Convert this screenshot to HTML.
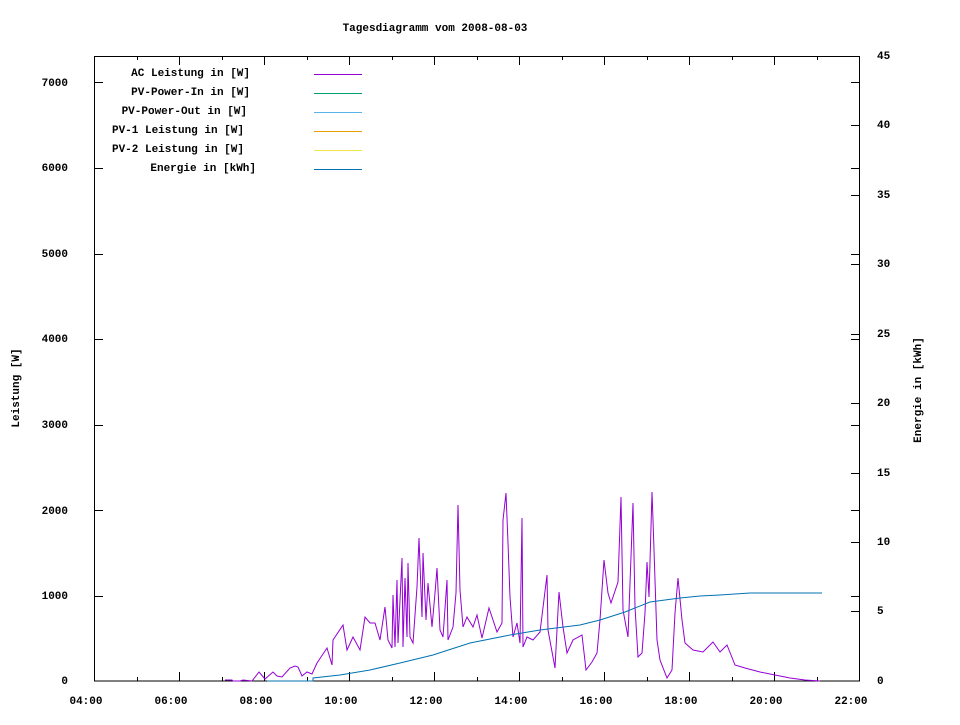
<!DOCTYPE html>
<html><head><meta charset="utf-8"><style>
html,body{margin:0;padding:0;background:#fff;}
text{font-family:"Liberation Mono",monospace;font-weight:bold;font-size:11px;fill:#000;}
</style></head><body>
<svg width="960" height="720" xmlns="http://www.w3.org/2000/svg">
<rect width="960" height="720" fill="#fff"/>
<text x="435" y="31" text-anchor="middle">Tagesdiagramm vom 2008-08-03</text>
<!-- frame -->
<rect x="94.5" y="56.5" width="765" height="624.5" fill="none" stroke="#000" stroke-width="1"/>
<g stroke="#000" stroke-width="1">
<!-- left ticks -->
<path d="M94 596.5h9M94 510.5h9M94 425.5h9M94 339.5h9M94 254.5h9M94 168.5h9M94 82.5h9"/>
<path d="M860 596.5h-9M860 510.5h-9M860 425.5h-9M860 339.5h-9M860 254.5h-9M860 168.5h-9M860 82.5h-9"/>
<!-- right ticks (energy) every 5 units -->
<path d="M860 611.5h-9M860 542.5h-9M860 473.5h-9M860 403.5h-9M860 334.5h-9M860 264.5h-9M860 195.5h-9M860 125.5h-9"/>
<!-- x ticks -->
<path d="M179.5 681v-9M264.5 681v-9M349.5 681v-9M434.5 681v-9M519.5 681v-9M604.5 681v-9M689.5 681v-9M774.5 681v-9"/>
<path d="M137.5 681v-4M222.5 681v-4M307.5 681v-4M392.5 681v-4M477.5 681v-4M562.5 681v-4M647.5 681v-4M732.5 681v-4M817.5 681v-4"/>
<path d="M179.5 56v9M264.5 56v9M349.5 56v9M434.5 56v9M519.5 56v9M604.5 56v9M689.5 56v9M774.5 56v9"/>
<path d="M137.5 56v4M222.5 56v4M307.5 56v4M392.5 56v4M477.5 56v4M562.5 56v4M647.5 56v4M732.5 56v4M817.5 56v4"/>
</g>
<g text-anchor="end">
<text x="68" y="684">0</text><text x="68" y="599">1000</text><text x="68" y="514">2000</text><text x="68" y="428">3000</text><text x="68" y="342">4000</text><text x="68" y="257">5000</text><text x="68" y="171">6000</text><text x="68" y="86">7000</text>
</g>
<g text-anchor="start">
<text x="877" y="684">0</text><text x="877" y="614">5</text><text x="877" y="545">10</text><text x="877" y="476">15</text><text x="877" y="406">20</text><text x="877" y="337">25</text><text x="877" y="267">30</text><text x="877" y="198">35</text><text x="877" y="128">40</text><text x="877" y="59">45</text>
</g>
<g text-anchor="middle">
<text x="86" y="704">04:00</text><text x="171" y="704">06:00</text><text x="256" y="704">08:00</text><text x="341" y="704">10:00</text><text x="426" y="704">12:00</text><text x="511" y="704">14:00</text><text x="596" y="704">16:00</text><text x="681" y="704">18:00</text><text x="766" y="704">20:00</text><text x="851" y="704">22:00</text>
</g>
<text transform="translate(19,388) rotate(-90)" text-anchor="middle">Leistung [W]</text>
<text transform="translate(921,390) rotate(-90)" text-anchor="middle">Energie in [kWh]</text>
<!-- legend -->
<g text-anchor="end">
<text x="250" y="76">AC Leistung in [W]</text>
<text x="250" y="95">PV-Power-In in [W]</text>
<text x="247" y="114">PV-Power-Out in [W]</text>
<text x="244" y="133">PV-1 Leistung in [W]</text>
<text x="244" y="152">PV-2 Leistung in [W]</text>
<text x="256" y="171">Energie in [kWh]</text>
</g>
<g stroke-width="1">
<path d="M314 74.5h48" stroke="#9400d3"/>
<path d="M314 93.5h48" stroke="#009e73"/>
<path d="M314 112.5h48" stroke="#56b4e9"/>
<path d="M314 131.5h48" stroke="#e69f00"/>
<path d="M314 150.5h48" stroke="#f0e442"/>
<path d="M314 169.5h48" stroke="#0072b2"/>
</g>
<!-- AC series -->
<polyline fill="none" stroke="#9400d3" stroke-width="1" points="225,680 232,680 233,681 240,681 243,680 252,681 259,672 265,679 273,672 277,676 282,677 290,668 295,666 298,667 302,676 307,672 312,674 317,663 327,648 332,665 333,640 343,625 347,650 353,637 360,650 365,617 370,623 375,623 380,640 385,607 388,640 392,648 393,595 395,647 397,580 398,643 402,558 403,647 405,578 407,637 408,563 410,637 413,643 417,587 419,538 422,617 423,553 426,620 428,583 432,627 435,593 437,568 440,630 443,637 447,580 448,640 453,627 456,593 458,505 460,590 463,627 467,617 473,627 477,615 482,638 489,608 497,632 502,623 503,520 506,493 508,543 510,597 513,637 517,623 520,643 522,518 523,647 527,637 533,640 540,632 547,575 548,630 555,668 559,592 563,627 567,653 573,640 582,635 586,670 592,662 597,653 600,620 604,560 608,593 611,603 618,582 621,497 623,610 628,637 633,503 635,607 638,657 642,653 645,613 647,562 649,597 652,492 653,520 657,640 660,660 667,678 672,670 675,613 678,578 682,620 685,643 693,650 703,652 713,642 720,652 727,645 735,665 745,668 760,672 775,675 790,678 805,680 820,681"/>
<!-- Energy series -->
<polyline fill="none" stroke="#0072b2" stroke-width="1" points="267,681 313,681 313,678 340,675 370,670 400,663 433,655 470,643 510,635 540,630 580,625 600,620 625,612 650,602 680,598 700,596 720,595 750,593 822,593"/>
</svg>
</body></html>
